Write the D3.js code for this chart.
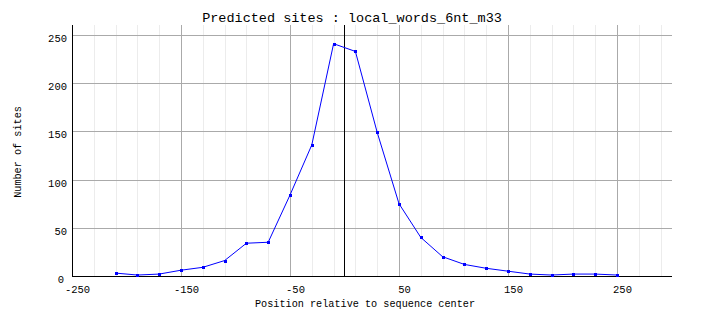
<!DOCTYPE html>
<html>
<head>
<meta charset="utf-8">
<script src="https://cdn.jsdelivr.net/npm/d3@7"></script>
<style>
  html, body { margin: 0; padding: 0; background: #fff; }
  svg { display: block; }
  text { font-family: "Liberation Mono", "DejaVu Sans Mono", monospace; fill: #000; }
</style>
</head>
<body>
<svg id="chart" width="704" height="328"></svg>
<script>
const title = "Predicted sites : local_words_6nt_m33";
const xTitle = "Position relative to sequence center";
const yTitle = "Number of sites";

const positions = [-210, -190, -170, -150, -130, -110, -90, -70, -50, -30, -10, 10,
                   30, 50, 70, 90, 110, 130, 150, 170, 190, 210, 230, 250];
const sites = [3, 1, 2, 6, 9, 16, 34, 35, 84, 136, 241, 233,
               149, 75, 40, 20, 12, 8, 5, 2, 1, 2, 2, 1];

const xTicks = [-250, -150, -50, 50, 150, 250];
const xMajorGrid = [-150, -50, 50, 150, 250];
const xMinorGrid = d3.range(-230, 300, 20);
const yTicks = [0, 50, 100, 150, 200, 250];
const xDomain = [-250, 300];
const yDomain = [0, 260];

const svg = d3.select("#chart");
const x = d3.scaleLinear().domain(xDomain).range([72, 671.5]);
const y = d3.scaleLinear().domain(yDomain).range([276, 25.4]);
const px = v => Math.round(v) + 0.5;

const g = svg.append("g").attr("shape-rendering", "crispEdges");

// minor vertical grid
g.selectAll(".minor").data(xMinorGrid).enter().append("line")
  .attr("x1", d => px(x(d))).attr("x2", d => px(x(d)))
  .attr("y1", y(yDomain[1])).attr("y2", y(0))
  .attr("stroke", "#ececec").attr("stroke-width", 1);

// horizontal grid
g.selectAll(".hgrid").data(yTicks.filter(d => d > 0)).enter().append("line")
  .attr("x1", x(xDomain[0])).attr("x2", x(xDomain[1]))
  .attr("y1", d => px(y(d))).attr("y2", d => px(y(d)))
  .attr("stroke", "#aaaaaa").attr("stroke-width", 1);

// major vertical grid
g.selectAll(".major").data(xMajorGrid).enter().append("line")
  .attr("x1", d => px(x(d))).attr("x2", d => px(x(d)))
  .attr("y1", y(yDomain[1])).attr("y2", y(0))
  .attr("stroke", "#aaaaaa").attr("stroke-width", 1);

// center line
g.append("line")
  .attr("x1", px(x(0))).attr("x2", px(x(0)))
  .attr("y1", y(yDomain[1])).attr("y2", y(0))
  .attr("stroke", "#000").attr("stroke-width", 1);

// axes lines
g.append("line")
  .attr("x1", px(x(xDomain[0]))).attr("x2", px(x(xDomain[0])))
  .attr("y1", y(yDomain[1])).attr("y2", px(y(0)))
  .attr("stroke", "#000").attr("stroke-width", 1.2);
g.append("line")
  .attr("x1", x(xDomain[0])).attr("x2", x(xDomain[1]))
  .attr("y1", px(y(0))).attr("y2", px(y(0)))
  .attr("stroke", "#000").attr("stroke-width", 1.2);

// data line
const data = positions.map((p, i) => ({p, v: sites[i]}));
svg.append("path")
  .datum(data)
  .attr("fill", "none")
  .attr("stroke", "#0000ff")
  .attr("stroke-width", 1)
  .attr("d", d3.line().x(d => x(d.p)).y(d => y(d.v)));

svg.selectAll(".pt").data(data).enter().append("rect")
  .attr("x", d => Math.round(x(d.p)) - 1.5)
  .attr("y", d => Math.round(y(d.v)) - 1.5)
  .attr("width", 3.5).attr("height", 3.5)
  .attr("fill", "#0000ff")
  .attr("shape-rendering", "crispEdges");

// x tick labels
svg.selectAll(".xl").data(xTicks).enter().append("text")
  .attr("x", d => x(d) + 5.5)
  .attr("y", 293)
  .attr("text-anchor", "middle")
  .attr("font-size", "10.5px")
  .text(d => d);

// y tick labels
svg.selectAll(".yl").data(yTicks).enter().append("text")
  .attr("x", d => d === 0 ? 64 : 67)
  .attr("y", d => y(d) + 7)
  .attr("text-anchor", "end")
  .attr("font-size", "10.5px")
  .text(d => d);

// titles
svg.append("text")
  .attr("x", 352).attr("y", 22)
  .attr("text-anchor", "middle")
  .attr("font-size", "13.5px")
  .text(title);

svg.append("text")
  .attr("x", 365).attr("y", 307)
  .attr("text-anchor", "middle")
  .attr("font-size", "10.2px")
  .text(xTitle);

svg.append("text")
  .attr("transform", "translate(21,152) rotate(-90)")
  .attr("text-anchor", "middle")
  .attr("font-size", "10.2px")
  .text(yTitle);
</script>
</body>
</html>
